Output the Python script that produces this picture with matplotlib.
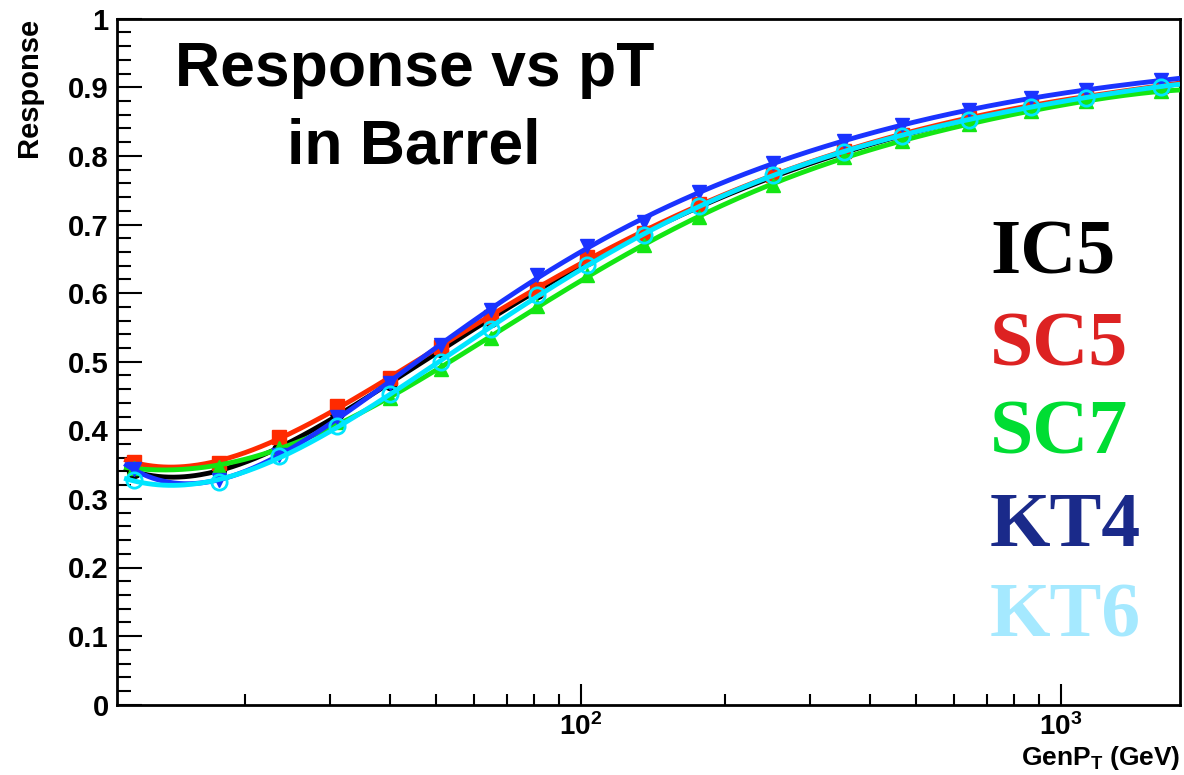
import numpy as np
import matplotlib
matplotlib.use("Agg")
import matplotlib.pyplot as plt
from matplotlib.ticker import FixedLocator, NullFormatter, FuncFormatter, MultipleLocator

plt.rcParams['font.family'] = 'Liberation Sans'
plt.rcParams['font.weight'] = 'bold'
plt.rcParams['mathtext.fontset'] = 'custom'
plt.rcParams['mathtext.rm'] = 'Liberation Sans:bold'
plt.rcParams['mathtext.bf'] = 'Liberation Sans:bold'
plt.rcParams['mathtext.it'] = 'Liberation Sans:bold'

# GenPt bin centres (GeV)
genpt = np.array([11.7, 17.6, 23.5, 31, 40, 51, 65, 81, 103, 135, 176,
                  251, 353, 467, 643, 866, 1127, 1615])

# response per algorithm
ic5 = np.array([0.340, 0.342, 0.371, 0.425, 0.469, 0.517, 0.561, 0.602, 0.649,
                0.684, 0.727, 0.770, 0.805, 0.829, 0.853, 0.872, 0.886, 0.901])
sc5 = np.array([0.354, 0.352, 0.390, 0.435, 0.476, 0.522, 0.565, 0.606, 0.653,
                0.687, 0.730, 0.772, 0.807, 0.831, 0.855, 0.874, 0.887, 0.902])
sc7 = np.array([0.345, 0.347, 0.374, 0.412, 0.447, 0.489, 0.535, 0.581, 0.626,
                0.670, 0.711, 0.758, 0.799, 0.821, 0.846, 0.866, 0.880, 0.894])
kt4 = np.array([0.343, 0.327, 0.364, 0.419, 0.469, 0.524, 0.575, 0.626, 0.669,
                0.703, 0.748, 0.789, 0.822, 0.845, 0.867, 0.884, 0.896, 0.910])
kt6 = np.array([0.327, 0.325, 0.362, 0.406, 0.453, 0.500, 0.547, 0.597, 0.641,
                0.685, 0.727, 0.772, 0.806, 0.829, 0.853, 0.872, 0.885, 0.901])

names = ["IC5", "SC5", "SC7", "KT4", "KT6"]
series = [ic5, sc5, sc7, kt4, kt6]
line_cols = ["black", "#ff2a00", "#14e614", "#1a33ff", "#00e5ff"]
text_cols = ["black", "#dd2222", "#00dd33", "#1a2a8a", "#a5e9ff"]
markers = ["o", "s", "^", "v", "o"]

fig = plt.figure(figsize=(11.84, 7.75), dpi=100)
ax = fig.add_axes([117/1184, 1 - 704.7/775, (1180-117)/1184, (704.7-18.7)/775])

xs = np.logspace(np.log10(11.3), np.log10(1750), 400)
for i, (y, c, m) in enumerate(zip(series, line_cols, markers)):
    # smooth fit in log(pt), like the fitted curves
    p = np.polyfit(np.log10(genpt), y, 6)
    ax.plot(xs, np.polyval(p, np.log10(xs)), color=c, lw=3.5, zorder=2 + i)
    if i == 4:
        ax.plot(genpt, y, ls="none", marker=m, ms=11, mfc="none", mec=c,
                mew=2, zorder=2 + i)
    else:
        ax.plot(genpt, y, ls="none", marker=m, ms=10, color=c, zorder=2 + i)

ax.set_xscale("log")
ax.set_xlim(10.8, 1770)
ax.set_ylim(0, 1)

for s in ax.spines.values():
    s.set_linewidth(2)

ax.yaxis.set_major_locator(MultipleLocator(0.1))
ax.yaxis.set_minor_locator(MultipleLocator(0.02))
ax.yaxis.set_major_formatter(FuncFormatter(lambda v, pos: "0" if v == 0 else ("1" if abs(v - 1) < 1e-9 else f"{v:.1f}")))
ax.xaxis.set_major_locator(FixedLocator([100, 1000]))
minor = [k * 10 ** d for d in (1, 2, 3) for k in range(2, 10) if 10.8 < k * 10 ** d < 1770]
ax.xaxis.set_minor_locator(FixedLocator(minor))
ax.xaxis.set_minor_formatter(NullFormatter())
ax.xaxis.set_major_formatter(FuncFormatter(lambda v, pos: r"$10^{%d}$" % round(np.log10(v))))

ax.tick_params(axis="y", which="major", direction="in", length=18, width=1.5,
               labelsize=21, pad=6)
ax.tick_params(axis="y", which="minor", direction="in", length=10, width=1.5)
ax.tick_params(axis="x", which="major", direction="in", length=15, width=1.5,
               labelsize=20, pad=6)
ax.tick_params(axis="x", which="minor", direction="in", length=8, width=1.5)

# axis titles, ROOT style (top / right aligned)
fig.text(29/1184, 1 - 18/775, "Response", rotation=90, ha="center", va="top",
         fontsize=21, fontweight="bold")
fig.text(1180/1184, 1 - 765/775, r"GenP$_{T}$ (GeV)", ha="right", va="baseline",
         fontsize=19, fontweight="bold")

fig.text(415/1184, 1 - 86/775, "Response vs pT", ha="center", va="baseline",
         fontsize=45, fontweight="bold")
fig.text(414/1184, 1 - 163/775, "in Barrel", ha="center", va="baseline",
         fontsize=45, fontweight="bold")

ypos = [255, 347, 435, 527, 618]
for name, c, yp in zip(names, text_cols, ypos):
    fig.text(990/1184, 1 - yp/775, name, color=c, fontsize=56, fontweight="bold",
             family="Liberation Serif", ha="left", va="center")

fig.savefig("out.png", dpi=100)
